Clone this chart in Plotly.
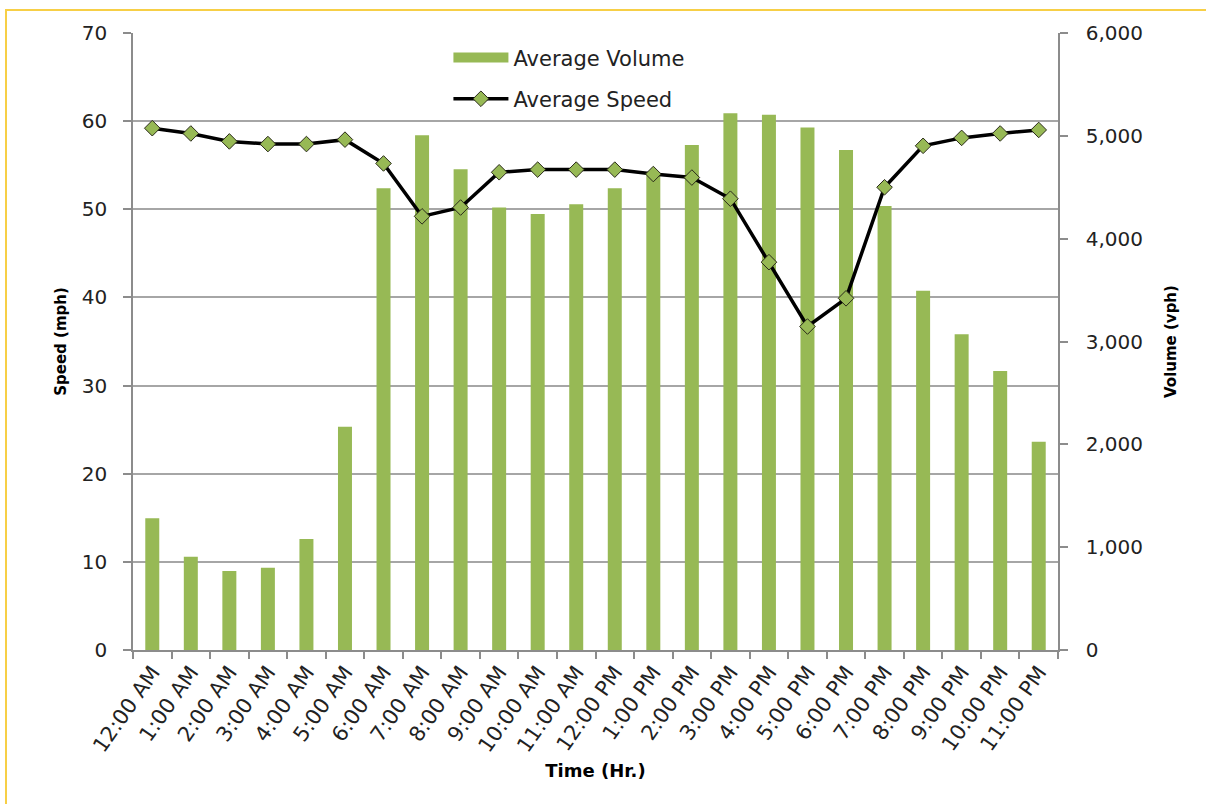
import plotly.graph_objects as go

hours = ["12:00 AM", "1:00 AM", "2:00 AM", "3:00 AM", "4:00 AM", "5:00 AM",
         "6:00 AM", "7:00 AM", "8:00 AM", "9:00 AM", "10:00 AM", "11:00 AM",
         "12:00 PM", "1:00 PM", "2:00 PM", "3:00 PM", "4:00 PM", "5:00 PM",
         "6:00 PM", "7:00 PM", "8:00 PM", "9:00 PM", "10:00 PM", "11:00 PM"]

avg_volume = [1281, 908, 768, 800, 1079, 2172, 4490, 5005, 4675, 4302, 4240, 4334,
              4490, 4620, 4911, 5220, 5206, 5080, 4862, 4318, 3494, 3070, 2713, 2026]

avg_speed = [59.2, 58.6, 57.7, 57.4, 57.4, 57.9, 55.2, 49.2, 50.2, 54.2, 54.5, 54.5,
             54.5, 54.0, 53.6, 51.2, 44.0, 36.7, 39.9, 52.5, 57.2, 58.1, 58.6, 59.0]

speed_ticks = [0, 10, 20, 30, 40, 50, 60, 70]
volume_ticks = [0, 1000, 2000, 3000, 4000, 5000, 6000]

GREEN = "#97B955"
AXIS = "#8c8c8c"
GRID = "#a6a6a6"
TXT = "#222222"
FONT = "DejaVu Sans"

fig = go.Figure()
fig.add_trace(go.Bar(
    x=hours, y=avg_volume, name="Average Volume",
    marker=dict(color=GREEN, line=dict(width=0)),
    yaxis="y", showlegend=False,
))
# legend entry for the bars (wide swatch as in the original)
fig.add_trace(go.Scatter(
    x=[None], y=[None], name="Average Volume", mode="lines",
    line=dict(color=GREEN, width=14), yaxis="y", legendgroup="a",
))
fig.add_trace(go.Scatter(
    x=hours, y=avg_speed, name="Average Speed", mode="lines+markers",
    line=dict(color="black", width=3.5),
    marker=dict(symbol="diamond", size=12, color=GREEN,
                line=dict(color="#2a2a1a", width=1)),
    yaxis="y2", legendgroup="b",
))

fig.update_layout(
    width=1206, height=804,
    margin=dict(l=133, r=148, t=33, b=154),
    paper_bgcolor="white", plot_bgcolor="white",
    font=dict(family=FONT, color=TXT),
    bargap=0.637,
    showlegend=True,
    legend=dict(x=0.341, y=0.993, xanchor="left", yanchor="top",
                bgcolor="rgba(0,0,0,0)", font=dict(family=FONT, size=21, color=TXT),
                traceorder="grouped", tracegroupgap=11, itemwidth=55),
    xaxis=dict(
        type="category", categoryorder="array", categoryarray=hours,
        range=[-0.5, len(hours) - 0.5],
        showline=True, linecolor=AXIS, linewidth=1.5,
        ticks="outside", tickson="boundaries", ticklen=7, tickcolor=AXIS, tickwidth=1.5,
        tickangle=-55, tickfont=dict(family=FONT, size=21, color=TXT),
        showgrid=False,
        title=dict(text="<b>Time (Hr.)</b>", font=dict(family=FONT, size=18, color="black"),
                   standoff=8),
    ),
    yaxis=dict(
        side="right", range=[0, 6000], tickvals=volume_ticks, tickformat=",",
        showline=True, linecolor=AXIS, linewidth=1.5,
        ticks="outside", ticklen=8, tickcolor=AXIS, tickwidth=1.5,
        ticklabelstandoff=14,
        tickfont=dict(family=FONT, size=20, color=TXT),
        showgrid=False, zeroline=False,
        title=dict(text="<b>Volume (vph)</b>", font=dict(family=FONT, size=15, color="black"),
                   standoff=23),
    ),
    yaxis2=dict(
        overlaying="y", side="left", range=[0, 70], tickvals=speed_ticks,
        showline=True, linecolor=AXIS, linewidth=1.5,
        ticks="outside", ticklen=8, tickcolor=AXIS, tickwidth=1.5,
        ticklabelstandoff=12,
        tickfont=dict(family=FONT, size=20, color=TXT),
        showgrid=True, gridcolor=GRID, gridwidth=1.5, zeroline=False,
        title=dict(text="<b>Speed (mph)</b>", font=dict(family=FONT, size=15, color="black"),
                   standoff=12),
    ),
    shapes=[dict(type="rect", xref="paper", yref="paper",
                 x0=-0.1373, x1=1.3, y0=-0.4, y1=1.0373,
                 line=dict(color="#F7CF46", width=2), fillcolor="rgba(0,0,0,0)")],
)

fig.write_html("out.html",
               config={"displayModeBar": False},
               post_script="document.body.style.margin='0px';document.body.style.overflow='hidden';")
